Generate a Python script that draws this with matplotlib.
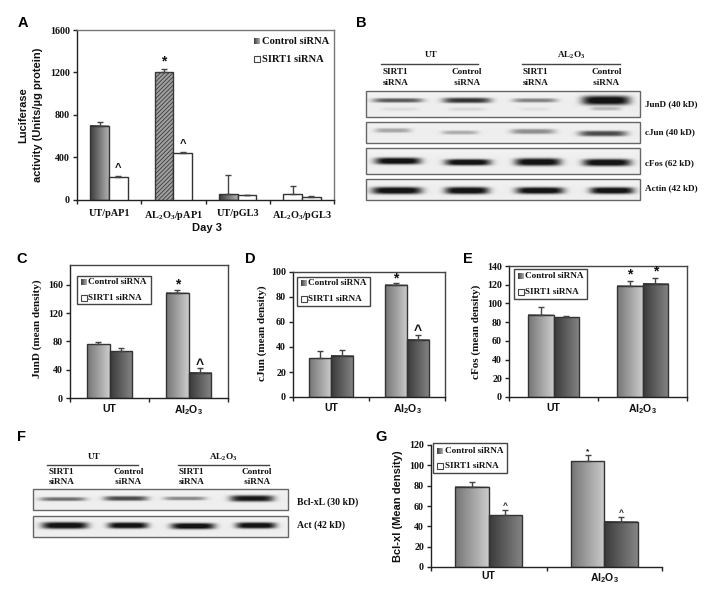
import numpy as np
import matplotlib
matplotlib.use("Agg")
import matplotlib.pyplot as plt
from matplotlib.patches import Rectangle
from matplotlib.colors import LinearSegmentedColormap

plt.rcParams.update({
    'mathtext.fontset': 'custom',
    'mathtext.rm': 'Liberation Serif:bold',
    'mathtext.bf': 'Liberation Sans:bold',
    'mathtext.it': 'Liberation Serif:bold',
    'hatch.linewidth': 0.6,
})
SERIF = 'Liberation Serif'
SANS = 'Liberation Sans'
W, H = 720, 600

# ---- data ----
A_cats = ['UT/pAP1', r'AL$_{\mathrm{2}}$O$_{\mathrm{3}}$/pAP1', 'UT/pGL3', r'AL$_{\mathrm{2}}$O$_{\mathrm{3}}$/pGL3']
A_control = [700, 1200, 55, 55]
A_control_err = [35, 30, 180, 80]
A_sirt = [220, 440, 45, 28]
A_sirt_err = [8, 8, 5, 5]

pair_cats = ['UT', r'Al$_{\mathbf{2}}$O$_{\mathbf{3}}$']
C_control = [76, 149]; C_control_err = [3, 4]
C_sirt = [66, 36]; C_sirt_err = [5, 6]
D_control = [31, 90]; D_control_err = [6, 1.5]
D_sirt = [33, 46]; D_sirt_err = [4.5, 4]
E_control = [88, 119]; E_control_err = [8, 5]
E_sirt = [85, 121]; E_sirt_err = [2, 6]
G_control = [79, 104]; G_control_err = [5, 6]
G_sirt = [51, 44.5]; G_sirt_err = [5, 5]

A_ticks = [0, 400, 800, 1200, 1600]
C_ticks = [0, 40, 80, 120, 160]
D_ticks = [0, 20, 40, 60, 80, 100]
E_ticks = [0, 20, 40, 60, 80, 100, 120, 140]
G_ticks = [0, 20, 40, 60, 80, 100, 120]

legend_labels = ['Control siRNA', 'SIRT1 siRNA']

# western blot bands: centre, half width, height in row, thickness, darkness
B_rows = {
    'JunD (40 kD)': [(398, 25, .36, 2.2, .62), (467, 24, .36, 2.7, .78), (535, 22, .36, 2.1, .45), (606, 24, .36, 4.6, 1.0),
                     (400, 18, .70, 1.8, .07), (467, 18, .70, 1.8, .09), (535, 15, .70, 1.8, .05), (606, 15, .68, 1.8, .22)],
    'cJun (40 kD)': [(393, 18, .40, 2.3, .30), (460, 18, .50, 2.0, .27), (533, 22, .45, 2.6, .40), (603, 24, .55, 2.8, .68)],
    'cFos (62 kD)': [(398, 23, .50, 3.4, 1.0), (468, 23, .55, 3.2, 1.0), (538, 23, .54, 3.8, 1.0), (607, 24, .56, 3.6, 1.0)],
    'Actin (42 kD)': [(397, 25, .55, 3.6, 1.0), (467, 22, .55, 3.6, 1.0), (540, 24, .55, 3.4, 1.0), (612, 22, .55, 3.4, 1.0)],
}
F_rows = {
    'Bcl-xL (30 kD)': [(63, 23, .48, 2.0, .52), (126, 22, .45, 2.4, .68), (185, 21, .45, 1.9, .42), (252, 22, .45, 3.2, .9)],
    'Act (42 kD)': [(65, 23, .45, 3.4, 1.0), (128, 20, .45, 3.1, 1.0), (193, 22, .48, 3.1, 1.0), (256, 20, .45, 3.1, 1.0)],
}

fig = plt.figure(figsize=(W / 100, H / 100), dpi=100, facecolor='white')
ov = fig.add_axes([0, 0, 1, 1], zorder=5)
ov.set_xlim(0, W); ov.set_ylim(H, 0); ov.axis('off'); ov.patch.set_alpha(0)

def txt(x, y, s, size=7, family=SERIF, ha='left', va='center', rot=0, color='#111111', **kw):
    ov.text(x, y, s, fontsize=size, family=family, weight='bold', ha=ha, va=va, rotation=rot,
            color=color, linespacing=1.45, **kw)

ctrl_cm = LinearSegmentedColormap.from_list('c', ['#757575', '#cccccc'])
sirt_cm = LinearSegmentedColormap.from_list('s', ['#3a3a3a', '#858585'])
dark_cm = LinearSegmentedColormap.from_list('d', ['#3c3c3c', '#b0b0b0'])
GRAD = np.linspace(0, 1, 64).reshape(1, -1)

def gradient(ax, rects, cmap):
    for r in rects:
        x0, w, h = r.get_x(), r.get_width(), r.get_height()
        ax.imshow(GRAD, cmap=cmap, extent=(x0, x0 + w, 0, h), aspect='auto', zorder=2.5, vmin=0, vmax=1)

def panel(box, ymax, ticks, cats, ctrl, ctrl_err, sirt, sirt_err, width,
          frame='#444444', frame_on=True, c_cm=ctrl_cm, s_cm=sirt_cm):
    l, t, r, b = box
    ax = fig.add_axes([l / W, 1 - b / H, (r - l) / W, (b - t) / H])
    x = np.arange(len(cats))
    ec = '#333333'
    ekw = dict(ecolor='#444444', elinewidth=1, capsize=2, capthick=1)
    b1 = ax.bar(x - width / 2, ctrl, width, color='none', edgecolor=ec, linewidth=1, zorder=3,
                yerr=[np.zeros(len(x)), ctrl_err], error_kw=ekw)
    b2 = ax.bar(x + width / 2, sirt, width, color='none', edgecolor=ec, linewidth=1, zorder=3,
                yerr=[np.zeros(len(x)), sirt_err], error_kw=ekw)
    if c_cm is not None:
        gradient(ax, b1, c_cm)
    if s_cm is not None:
        gradient(ax, b2, s_cm)
    ax.set_xlim(-0.5, len(cats) - 0.5)
    ax.set_ylim(0, ymax)
    ax.set_yticks(ticks)
    ax.set_yticklabels([str(v) for v in ticks], fontsize=7.2, family=SERIF, weight='bold', color='#111111')
    ax.set_xticks(np.arange(len(cats) + 1) - 0.5, [''] * (len(cats) + 1))
    ax.tick_params(axis='both', which='major', length=3, width=1, color='#222222', pad=2, direction='out')
    for s in ax.spines.values():
        s.set_color(frame); s.set_linewidth(1)
    ax.spines['left'].set_color('#222222'); ax.spines['bottom'].set_color('#222222')
    if not frame_on:
        ax.spines['top'].set_visible(False); ax.spines['right'].set_visible(False)
    return ax, b1, b2

def cat_labels(ax, cats, pad, size, family):
    ax.set_xticks(np.arange(len(cats)), cats, minor=True)
    ax.tick_params(axis='x', which='minor', length=0, pad=pad)
    for lab in ax.get_xticklabels(minor=True):
        lab.set_fontsize(size); lab.set_family(family); lab.set_weight('bold'); lab.set_color('#111111')

def mark(ax, i, off, val, err, s, px=4, size=10):
    ax.annotate(s, (i + off, val + err), xytext=(0, px), textcoords='offset pixels', ha='center', va='bottom',
                fontsize=size, family=SANS, weight='bold', color='#111111', zorder=6)

def legend(box, sw_x, tx, ys, size):
    if box is not None:
        ov.add_patch(Rectangle((box[0], box[1]), box[2] - box[0], box[3] - box[1], fc='white', ec='#444444', lw=1))
    ov.imshow(GRAD, cmap=dark_cm, extent=(sw_x, sw_x + 5.5, ys[0] + 2.7, ys[0] - 2.7), aspect='auto', zorder=6)
    ov.add_patch(Rectangle((sw_x, ys[1] - 2.7), 5.5, 5.4, fc='white', ec='#444444', lw=.8, zorder=6))
    for y, s in zip(ys, legend_labels):
        txt(tx, y, s, size=size, zorder=7)
    ov.set_xlim(0, W); ov.set_ylim(H, 0)

def blot(box_left, box_right, rows_y, rows):
    for (y0, y1), (name, bands) in zip(rows_y, rows.items()):
        ww, hh = int(box_right - box_left), int((y1 - y0))
        xx, yy = np.meshgrid(np.arange(ww) + box_left + .5, np.arange(hh) + .5)
        img = np.full((hh, ww), 0.95)
        img -= 0.02 * np.exp(-((yy - hh * .6) / (hh * .5)) ** 2)
        for cx, hw, fy, th, dk in bands:
            ex = np.exp(-np.abs((xx - cx) / hw) ** 5)
            ey = np.exp(-np.abs((yy - hh * fy) / th) ** 3)
            img -= dk * 0.95 * ex * ey
        img = np.clip(img, 0.08, 1)
        ov.imshow(img, cmap='gray', vmin=0, vmax=1, extent=(box_left, box_right, y1, y0),
                  aspect='auto', zorder=3, interpolation='bilinear')
        ov.add_patch(Rectangle((box_left, y0), box_right - box_left, y1 - y0, fc='none', ec='#666666', lw=1, zorder=4))
    ov.set_xlim(0, W); ov.set_ylim(H, 0)

# ---- A ----
axA, a1, a2 = panel((77, 30, 334, 200), 1600, A_ticks, A_cats, A_control, A_control_err, A_sirt, A_sirt_err, .29,
                    frame='#777777', c_cm=None, s_cm=None)
gradient(axA, [a1[0], a1[2]], dark_cm)
a1[1].set_facecolor('#a0a0a0'); a1[1].set_hatch('////////'); a1[1].set_edgecolor('#3a3a3a')
for r in a1[3], *a2:
    r.set_facecolor('white')
axA.set_ylim(0, 1600)
cat_labels(axA, A_cats, 6.5, 7.4, SERIF)
mark(axA, 1, -.145, A_control[1], A_control_err[1], '*', px=1, size=10)
for i in (0, 1):
    mark(axA, i, .145, A_sirt[i], A_sirt_err[i], '^', px=3, size=8)
legend(None, 254, 262, (41, 59), 7.6)
txt(23, 115, 'Luciferase', 8, SANS, ha='center', rot=90)
txt(38, 115, 'activity (Units/µg protein)', 8, SANS, ha='center', rot=90)
txt(207, 228, 'Day 3', 8, SANS, ha='center')

# ---- C ----
axC, *_ = panel((70, 265, 228, 398), 188, C_ticks, pair_cats, C_control, C_control_err, C_sirt, C_sirt_err, .285)
axC.set_ylim(0, 188)
cat_labels(axC, pair_cats, 4, 7.6, SANS)
mark(axC, 1, -.1425, C_control[1], C_control_err[1], '*', px=-2, size=10)
mark(axC, 1, .1425, C_sirt[1], C_sirt_err[1], '^', px=-4, size=10)
legend((77, 276, 151, 304), 81, 88, (282, 298), 6.6)
txt(37, 329, 'JunD (mean density)', 8, SERIF, ha='center', rot=90)

# ---- D ----
axD, *_ = panel((293, 272, 445, 397), 100, D_ticks, pair_cats, D_control, D_control_err, D_sirt, D_sirt_err, .29)
axD.set_ylim(0, 100)
cat_labels(axD, pair_cats, 4, 7.6, SANS)
mark(axD, 1, -.145, D_control[1], D_control_err[1], '*', px=-3, size=10)
mark(axD, 1, .145, D_sirt[1], D_sirt_err[1], '^', px=-4, size=10)
legend((297, 277, 370, 306), 301, 308, (283, 299), 6.6)
txt(262, 333, 'cJun (mean density)', 8, SERIF, ha='center', rot=90)

# ---- E ----
axE, *_ = panel((509, 266, 687, 397), 140, E_ticks, pair_cats, E_control, E_control_err, E_sirt, E_sirt_err, .287)
axE.set_ylim(0, 140)
cat_labels(axE, pair_cats, 4, 7.6, SANS)
mark(axE, 1, -.1435, E_control[1], E_control_err[1], '*', px=0, size=10)
mark(axE, 1, .1435, E_sirt[1], E_sirt_err[1], '*', px=0, size=10)
legend((514, 269, 587, 299), 518, 525, (276, 292), 6.6)
txt(476, 332, 'cFos (mean density)', 8, SERIF, ha='center', rot=90)

# ---- G ----
axG, *_ = panel((431, 445, 662, 567), 120, G_ticks, pair_cats, G_control, G_control_err, G_sirt, G_sirt_err, .29, frame_on=False)
axG.set_ylim(0, 120)
cat_labels(axG, pair_cats, 3, 7.6, SANS)
mark(axG, 1, -.145, G_control[1], G_control_err[1], '*', px=0, size=6)
mark(axG, 0, .145, G_sirt[0], G_sirt_err[0], '^', px=0, size=6)
mark(axG, 1, .145, G_sirt[1], G_sirt_err[1], '^', px=0, size=6)
legend((433, 443, 507, 473), 437, 445, (451, 466), 6.6)
txt(398, 506, 'Bcl-xl (Mean density)', 8, SANS, ha='center', rot=90)

# ---- blots ----
blot(366, 640, [(91, 117), (122, 143), (148, 174), (179, 200)], B_rows)
for y, name in zip((104, 132, 163, 188), B_rows):
    txt(645, y, name, 6.6)
txt(431, 55, 'UT', 6.6, ha='center')
txt(571, 55, r'AL$_{\mathrm{2}}$O$_{\mathrm{3}}$', 6.6, ha='center')
ov.plot([381, 478], [63.5, 63.5], color='#444444', lw=1)
ov.plot([522, 620], [63.5, 63.5], color='#444444', lw=1)
for x, s in ((383, 'SIRT1\nsiRNA'), (452, 'Control\n siRNA'), (523, 'SIRT1\nsiRNA'), (591, 'Control\n siRNA')):
    txt(x, 77.5, s, 6.6)

blot(33, 288, [(489, 510), (516, 537)], F_rows)
for y, name in zip((502, 525), F_rows):
    txt(297, y, name, 7)
txt(94, 457, 'UT', 6.6, ha='center')
txt(223, 457, r'AL$_{\mathrm{2}}$O$_{\mathrm{3}}$', 6.6, ha='center')
ov.plot([47, 138], [465, 465], color='#444444', lw=1)
ov.plot([178, 269], [465, 465], color='#444444', lw=1)
for x, s in ((49, 'SIRT1\nsiRNA'), (113, 'Control\n siRNA'), (179, 'SIRT1\nsiRNA'), (242, 'Control\n siRNA')):
    txt(x, 477, s, 6.6)

# ---- panel letters ----
for x, y, s in ((23, 23, 'A'), (361, 23, 'B'), (22, 259, 'C'), (250, 259, 'D'), (468, 259, 'E'), (22, 437, 'F'), (381, 437, 'G')):
    txt(x, y, s, 10.5, SANS, ha='center', color='black')

ov.set_xlim(0, W); ov.set_ylim(H, 0)
fig.savefig('out.png', dpi=100)
